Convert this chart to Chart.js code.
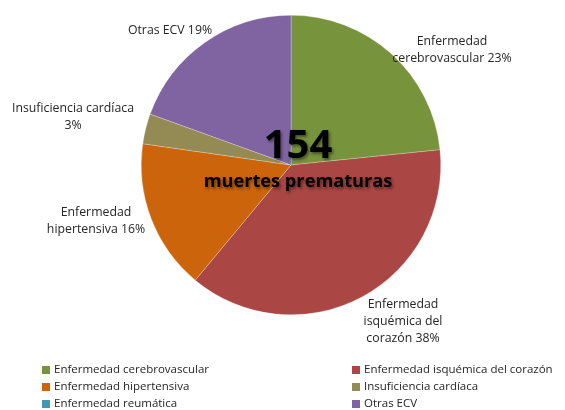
<!DOCTYPE html>
<html>
<head>
<meta charset="utf-8">
<script src="https://cdn.jsdelivr.net/npm/chart.js@4/dist/chart.umd.min.js"></script>
<style>
    html, body { margin: 0; padding: 0; background: #ffffff; }
    #wrap { width: 565px; height: 410px; position: relative; }
</style>
</head>
<body>
<div id="wrap"><canvas id="chart" width="565" height="410"></canvas></div>
<script>
// Chart values (deaths by cause, total 154)
const categories = [
    'Enfermedad cerebrovascular',
    'Enfermedad isquémica del corazón',
    'Enfermedad hipertensiva',
    'Insuficiencia cardíaca',
    'Enfermedad reumática',
    'Otras ECV'
]
const deaths = [36, 58, 25, 5, 0, 30]
const colors = ['#77933C', '#AA4643', '#CC640C', '#948A54', '#4198AF', '#8064A2']

// Wrapped data label text (the percent is appended on the last line)
const labelLines = [
    ['Enfermedad', 'cerebrovascular'],
    ['Enfermedad', 'isquémica del', 'corazón'],
    ['Enfermedad', 'hipertensiva'],
    ['Insuficiencia cardíaca', ''],
    [],
    ['Otras ECV']
]
const centerNumber = '154'
const centerCaption = 'muertes prematuras'

// Label block offsets from pie centre (x of centre, y of first line)
const labelOffsets = [
    [161, -124], [112, 139], [-195, 47], [-218, -57], null, [-121, -135]
]

const total = deaths.reduce((a, b) => a + b, 0)

const labelPlugin = {
    id: 'pieLabels',
    afterDraw(chart) {
        const ctx = chart.ctx
        const arc = chart.getDatasetMeta(0).data[0]
        const cx = arc.x
        const cy = arc.y

        ctx.save()
        ctx.fillStyle = '#262626'
        ctx.font = '12.3px "Open Sans"'
        ctx.textAlign = 'center'
        ctx.textBaseline = 'middle'
        deaths.forEach((v, i) => {
            const off = labelOffsets[i]
            if (!off || v === 0) return
            const pct = Math.round(v / total * 100) + '%'
            const lines = labelLines[i].slice()
            const last = lines.length - 1
            lines[last] = lines[last] ? lines[last] + ' ' + pct : pct
            lines.forEach((t, k) => {
                ctx.fillText(t, cx + off[0], cy + off[1] + k * 17)
            })
        })

        // centre text with soft shadow
        ctx.fillStyle = '#000000'
        ctx.shadowColor = 'rgba(0,0,0,0.45)'
        ctx.shadowBlur = 3
        ctx.shadowOffsetX = 1.5
        ctx.shadowOffsetY = 1.5
        ctx.textBaseline = 'alphabetic'
        ctx.font = 'bold 40px "Open Sans"'
        ctx.fillText(centerNumber, cx + 7, cy - 7)
        ctx.font = 'bold 18.2px "Open Sans"'
        ctx.fillText(centerCaption, cx + 7, cy + 22)
        ctx.restore()

        // legend in two columns
        ctx.save()
        ctx.font = '11.5px "Open Sans"'
        ctx.textAlign = 'left'
        ctx.textBaseline = 'middle'
        categories.forEach((name, i) => {
            const col = i % 2
            const row = Math.floor(i / 2)
            const x = col === 0 ? 42 : 352
            const y = 370 + row * 17
            ctx.fillStyle = colors[i]
            ctx.fillRect(x, y - 4, 8, 8)
            ctx.fillStyle = '#262626'
            ctx.fillText(name, x + 12, y)
        })
        ctx.restore()
    }
}

new Chart(document.getElementById('chart').getContext('2d'), {
    type: 'pie',
    data: {
        labels: categories,
        datasets: [{
            data: deaths,
            backgroundColor: colors,
            borderColor: 'rgba(255,255,255,0.5)',
            borderWidth: 0.5
        }]
    },
    options: {
        responsive: false,
        animation: false,
        layout: { padding: { top: 15, bottom: 95, left: 141, right: 124 } },
        plugins: {
            legend: { display: false },
            tooltip: { enabled: false }
        }
    },
    plugins: [labelPlugin]
})
</script>
</body>
</html>
